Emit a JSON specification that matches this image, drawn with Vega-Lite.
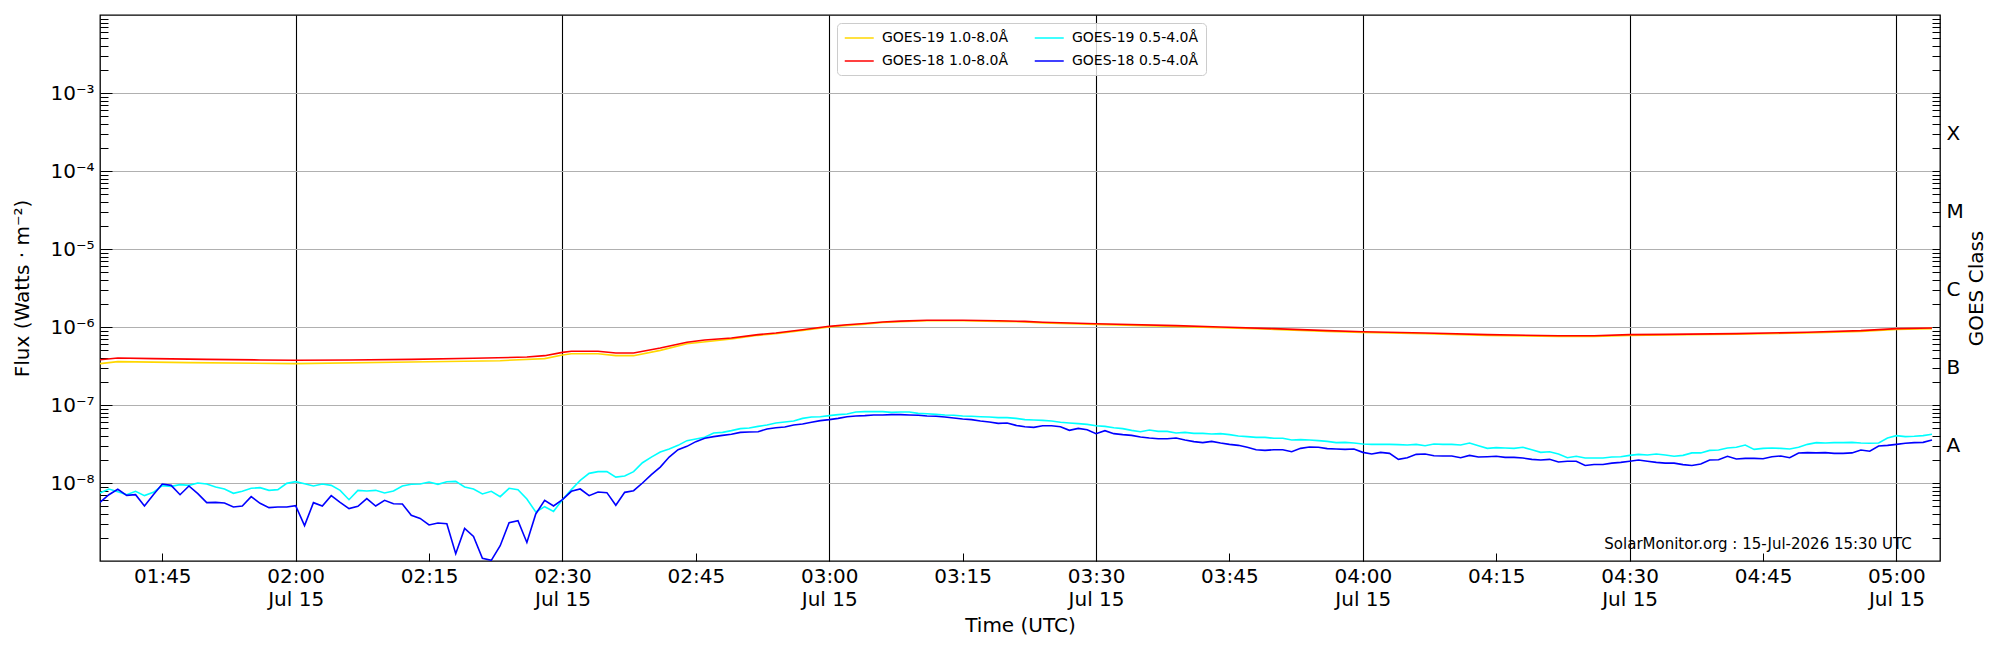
{
  "$schema": "https://vega.github.io/schema/vega-lite/v6.json",
  "width": 1840,
  "height": 546,
  "autosize": "none",
  "padding": {"left": 100, "top": 15, "right": 60, "bottom": 89},
  "config": {
    "font": "DejaVu Sans",
    "view": {"stroke": "black", "strokeWidth": 1.3},
    "axis": {"labelColor": "black", "titleColor": "black", "labelFont": "DejaVu Sans", "titleFont": "DejaVu Sans"},
    "text": {"font": "DejaVu Sans"}
  },
  "data": {"values": [
    {"t":"2026-07-15T01:38Z","a":3.39e-7,"b":3.81e-7,"c":7.45e-9,"d":5.65e-9},
    {"t":"2026-07-15T01:39Z","c":8.38e-9,"d":7.08e-9},
    {"t":"2026-07-15T01:40Z","a":3.60e-7,"b":4.01e-7,"c":7.74e-9,"d":8.30e-9},
    {"t":"2026-07-15T01:41Z","c":7.08e-9,"d":6.95e-9},
    {"t":"2026-07-15T01:42Z","c":7.82e-9,"d":7.08e-9},
    {"t":"2026-07-15T01:43Z","c":6.89e-9,"d":5.07e-9},
    {"t":"2026-07-15T01:44Z","b":3.93e-7,"c":7.59e-9,"d":7.08e-9},
    {"t":"2026-07-15T01:45Z","c":9.25e-9,"d":9.71e-9},
    {"t":"2026-07-15T01:46Z","c":9.06e-9,"d":9.33e-9},
    {"t":"2026-07-15T01:47Z","c":9.52e-9,"d":7.08e-9},
    {"t":"2026-07-15T01:48Z","a":3.49e-7,"c":9.33e-9,"d":9.16e-9},
    {"t":"2026-07-15T01:49Z","c":1.00e-8,"d":7.30e-9},
    {"t":"2026-07-15T01:50Z","b":3.85e-7,"c":9.71e-9,"d":5.60e-9},
    {"t":"2026-07-15T01:51Z","c":8.89e-9,"d":5.65e-9},
    {"t":"2026-07-15T01:52Z","c":8.38e-9,"d":5.54e-9},
    {"t":"2026-07-15T01:53Z","c":7.38e-9,"d":4.92e-9},
    {"t":"2026-07-15T01:54Z","c":7.82e-9,"d":5.07e-9},
    {"t":"2026-07-15T01:55Z","c":8.55e-9,"d":6.68e-9},
    {"t":"2026-07-15T01:56Z","b":3.78e-7,"c":8.71e-9,"d":5.49e-9},
    {"t":"2026-07-15T01:57Z","c":8.05e-9,"d":4.83e-9},
    {"t":"2026-07-15T01:58Z","c":8.22e-9,"d":4.92e-9},
    {"t":"2026-07-15T01:59Z","c":9.9e-9,"d":4.92e-9},
    {"t":"2026-07-15T02:00Z","a":3.39e-7,"b":3.74e-7,"c":1.04e-8,"d":5.12e-9},
    {"t":"2026-07-15T02:01Z","c":9.8e-9,"d":2.84e-9},
    {"t":"2026-07-15T02:02Z","c":9.16e-9,"d":5.60e-9},
    {"t":"2026-07-15T02:03Z","c":9.71e-9,"d":5.07e-9},
    {"t":"2026-07-15T02:04Z","c":9.33e-9,"d":6.89e-9},
    {"t":"2026-07-15T02:05Z","c":8.05e-9,"d":5.65e-9},
    {"t":"2026-07-15T02:06Z","b":3.78e-7,"c":6.11e-9,"d":4.69e-9},
    {"t":"2026-07-15T02:07Z","c":8.05e-9,"d":5.02e-9},
    {"t":"2026-07-15T02:08Z","c":7.89e-9,"d":6.30e-9},
    {"t":"2026-07-15T02:09Z","c":8.05e-9,"d":5.07e-9},
    {"t":"2026-07-15T02:10Z","c":7.45e-9,"d":6.0e-9},
    {"t":"2026-07-15T02:11Z","c":7.89e-9,"d":5.43e-9},
    {"t":"2026-07-15T02:12Z","c":9.16e-9,"d":5.38e-9},
    {"t":"2026-07-15T02:13Z","a":3.56e-7,"b":3.85e-7,"c":9.62e-9,"d":3.85e-9},
    {"t":"2026-07-15T02:14Z","c":9.71e-9,"d":3.52e-9},
    {"t":"2026-07-15T02:15Z","c":1.03e-8,"d":2.90e-9},
    {"t":"2026-07-15T02:16Z","c":9.62e-9,"d":3.07e-9},
    {"t":"2026-07-15T02:17Z","c":1.04e-8,"d":3.01e-9},
    {"t":"2026-07-15T02:18Z","c":1.05e-8,"d":1.24e-9},
    {"t":"2026-07-15T02:19Z","c":8.89e-9,"d":2.62e-9},
    {"t":"2026-07-15T02:20Z","b":3.97e-7,"c":8.38e-9,"d":2.07e-9},
    {"t":"2026-07-15T02:21Z","c":7.23e-9,"d":1.08e-9},
    {"t":"2026-07-15T02:22Z","c":7.82e-9,"d":1.02e-9},
    {"t":"2026-07-15T02:23Z","a":3.70e-7,"c":6.68e-9,"d":1.57e-9},
    {"t":"2026-07-15T02:24Z","c":8.55e-9,"d":3.10e-9},
    {"t":"2026-07-15T02:25Z","c":8.22e-9,"d":3.29e-9},
    {"t":"2026-07-15T02:26Z","b":4.12e-7,"c":6.24e-9,"d":1.73e-9},
    {"t":"2026-07-15T02:27Z","c":4.25e-9,"d":4.01e-9},
    {"t":"2026-07-15T02:28Z","a":3.93e-7,"b":4.29e-7,"c":4.97e-9,"d":6.0e-9},
    {"t":"2026-07-15T02:29Z","c":4.33e-9,"d":5.07e-9},
    {"t":"2026-07-15T02:30Z","a":4.38e-7,"b":4.73e-7,"c":6.11e-9,"d":6.11e-9},
    {"t":"2026-07-15T02:31Z","a":4.55e-7,"b":4.88e-7,"c":8.22e-9,"d":7.82e-9},
    {"t":"2026-07-15T02:32Z","c":1.08e-8,"d":8.38e-9},
    {"t":"2026-07-15T02:33Z","c":1.33e-8,"d":6.89e-9},
    {"t":"2026-07-15T02:34Z","a":4.55e-7,"b":4.88e-7,"c":1.40e-8,"d":7.67e-9},
    {"t":"2026-07-15T02:35Z","c":1.40e-8,"d":7.52e-9},
    {"t":"2026-07-15T02:36Z","a":4.29e-7,"b":4.65e-7,"c":1.19e-8,"d":5.18e-9},
    {"t":"2026-07-15T02:37Z","c":1.23e-8,"d":7.59e-9},
    {"t":"2026-07-15T02:38Z","a":4.29e-7,"b":4.65e-7,"c":1.40e-8,"d":7.97e-9},
    {"t":"2026-07-15T02:39Z","c":1.82e-8,"d":1.00e-8},
    {"t":"2026-07-15T02:40Z","c":2.15e-8,"d":1.28e-8},
    {"t":"2026-07-15T02:41Z","a":5.02e-7,"b":5.38e-7,"c":2.50e-8,"d":1.60e-8},
    {"t":"2026-07-15T02:42Z","c":2.73e-8,"d":2.15e-8},
    {"t":"2026-07-15T02:43Z","c":3.04e-8,"d":2.67e-8},
    {"t":"2026-07-15T02:44Z","a":6.11e-7,"b":6.36e-7,"c":3.49e-8,"d":2.95e-8},
    {"t":"2026-07-15T02:45Z","c":3.67e-8,"d":3.39e-8},
    {"t":"2026-07-15T02:46Z","b":6.81e-7,"c":3.85e-8,"d":3.74e-8},
    {"t":"2026-07-15T02:47Z","c":4.38e-8,"d":3.93e-8},
    {"t":"2026-07-15T02:48Z","c":4.46e-8,"d":4.08e-8},
    {"t":"2026-07-15T02:49Z","a":7.02e-7,"b":7.23e-7,"c":4.69e-8,"d":4.21e-8},
    {"t":"2026-07-15T02:50Z","c":4.98e-8,"d":4.46e-8},
    {"t":"2026-07-15T02:51Z","c":5.07e-8,"d":4.51e-8},
    {"t":"2026-07-15T02:52Z","a":7.82e-7,"b":7.98e-7,"c":5.32e-8,"d":4.55e-8},
    {"t":"2026-07-15T02:53Z","c":5.54e-8,"d":4.92e-8},
    {"t":"2026-07-15T02:54Z","a":8.21e-7,"b":8.38e-7,"c":5.88e-8,"d":5.12e-8},
    {"t":"2026-07-15T02:55Z","c":6.05e-8,"d":5.22e-8},
    {"t":"2026-07-15T02:56Z","c":6.23e-8,"d":5.54e-8},
    {"t":"2026-07-15T02:57Z","a":9.06e-7,"b":9.24e-7,"c":6.74e-8,"d":5.71e-8},
    {"t":"2026-07-15T02:58Z","c":7.02e-8,"d":6.0e-8},
    {"t":"2026-07-15T02:59Z","c":7.08e-8,"d":6.30e-8},
    {"t":"2026-07-15T03:00Z","a":1.00e-6,"b":1.02e-6,"c":7.30e-8,"d":6.49e-8},
    {"t":"2026-07-15T03:01Z","c":7.52e-8,"d":6.74e-8},
    {"t":"2026-07-15T03:02Z","a":1.05e-6,"b":1.07e-6,"c":7.67e-8,"d":7.08e-8},
    {"t":"2026-07-15T03:03Z","c":8.13e-8,"d":7.23e-8},
    {"t":"2026-07-15T03:04Z","a":1.09e-6,"b":1.11e-6,"c":8.22e-8,"d":7.30e-8},
    {"t":"2026-07-15T03:05Z","c":8.22e-8,"d":7.45e-8},
    {"t":"2026-07-15T03:06Z","a":1.14e-6,"b":1.16e-6,"c":8.22e-8,"d":7.45e-8},
    {"t":"2026-07-15T03:07Z","c":8.05e-8,"d":7.52e-8},
    {"t":"2026-07-15T03:08Z","a":1.17e-6,"b":1.19e-6,"c":8.13e-8,"d":7.52e-8},
    {"t":"2026-07-15T03:09Z","c":8.13e-8,"d":7.45e-8},
    {"t":"2026-07-15T03:10Z","c":7.82e-8,"d":7.38e-8},
    {"t":"2026-07-15T03:11Z","a":1.20e-6,"b":1.22e-6,"c":7.74e-8,"d":7.23e-8},
    {"t":"2026-07-15T03:12Z","c":7.59e-8,"d":7.16e-8},
    {"t":"2026-07-15T03:13Z","c":7.45e-8,"d":7.02e-8},
    {"t":"2026-07-15T03:14Z","c":7.38e-8,"d":6.81e-8},
    {"t":"2026-07-15T03:15Z","a":1.20e-6,"b":1.22e-6,"c":7.23e-8,"d":6.62e-8},
    {"t":"2026-07-15T03:16Z","c":7.16e-8,"d":6.49e-8},
    {"t":"2026-07-15T03:17Z","c":7.08e-8,"d":6.23e-8},
    {"t":"2026-07-15T03:18Z","c":7.02e-8,"d":6.05e-8},
    {"t":"2026-07-15T03:19Z","a":1.18e-6,"b":1.20e-6,"c":6.89e-8,"d":5.82e-8},
    {"t":"2026-07-15T03:20Z","c":6.89e-8,"d":5.88e-8},
    {"t":"2026-07-15T03:21Z","c":6.74e-8,"d":5.48e-8},
    {"t":"2026-07-15T03:22Z","a":1.16e-6,"b":1.18e-6,"c":6.49e-8,"d":5.27e-8},
    {"t":"2026-07-15T03:23Z","c":6.43e-8,"d":5.17e-8},
    {"t":"2026-07-15T03:24Z","a":1.13e-6,"b":1.15e-6,"c":6.36e-8,"d":5.43e-8},
    {"t":"2026-07-15T03:25Z","c":6.23e-8,"d":5.43e-8},
    {"t":"2026-07-15T03:26Z","c":6.0e-8,"d":5.27e-8},
    {"t":"2026-07-15T03:27Z","c":5.88e-8,"d":4.73e-8},
    {"t":"2026-07-15T03:28Z","c":5.77e-8,"d":5.02e-8},
    {"t":"2026-07-15T03:29Z","c":5.65e-8,"d":4.83e-8},
    {"t":"2026-07-15T03:30Z","a":1.08e-6,"b":1.10e-6,"c":5.43e-8,"d":4.29e-8},
    {"t":"2026-07-15T03:31Z","c":5.32e-8,"d":4.69e-8},
    {"t":"2026-07-15T03:32Z","c":5.12e-8,"d":4.29e-8},
    {"t":"2026-07-15T03:33Z","c":4.98e-8,"d":4.17e-8},
    {"t":"2026-07-15T03:34Z","c":4.73e-8,"d":4.08e-8},
    {"t":"2026-07-15T03:35Z","c":4.55e-8,"d":3.89e-8},
    {"t":"2026-07-15T03:36Z","c":4.78e-8,"d":3.78e-8},
    {"t":"2026-07-15T03:37Z","c":4.59e-8,"d":3.70e-8},
    {"t":"2026-07-15T03:38Z","c":4.59e-8,"d":3.70e-8},
    {"t":"2026-07-15T03:39Z","a":1.02e-6,"b":1.04e-6,"c":4.38e-8,"d":3.78e-8},
    {"t":"2026-07-15T03:40Z","c":4.46e-8,"d":3.56e-8},
    {"t":"2026-07-15T03:41Z","c":4.33e-8,"d":3.39e-8},
    {"t":"2026-07-15T03:42Z","c":4.33e-8,"d":3.29e-8},
    {"t":"2026-07-15T03:43Z","c":4.25e-8,"d":3.42e-8},
    {"t":"2026-07-15T03:44Z","a":9.8e-7,"b":1.00e-6,"c":4.29e-8,"d":3.26e-8},
    {"t":"2026-07-15T03:45Z","c":4.17e-8,"d":3.13e-8},
    {"t":"2026-07-15T03:46Z","c":4.01e-8,"d":3.04e-8},
    {"t":"2026-07-15T03:47Z","c":3.93e-8,"d":2.87e-8},
    {"t":"2026-07-15T03:48Z","c":3.85e-8,"d":2.67e-8},
    {"t":"2026-07-15T03:49Z","c":3.85e-8,"d":2.62e-8},
    {"t":"2026-07-15T03:50Z","a":9.33e-7,"b":9.52e-7,"c":3.74e-8,"d":2.67e-8},
    {"t":"2026-07-15T03:51Z","c":3.74e-8,"d":2.67e-8},
    {"t":"2026-07-15T03:52Z","c":3.56e-8,"d":2.52e-8},
    {"t":"2026-07-15T03:53Z","c":3.60e-8,"d":2.78e-8},
    {"t":"2026-07-15T03:54Z","c":3.56e-8,"d":2.90e-8},
    {"t":"2026-07-15T03:55Z","c":3.49e-8,"d":2.87e-8},
    {"t":"2026-07-15T03:56Z","a":8.80e-7,"b":8.98e-7,"c":3.42e-8,"d":2.76e-8},
    {"t":"2026-07-15T03:57Z","c":3.29e-8,"d":2.73e-8},
    {"t":"2026-07-15T03:58Z","c":3.32e-8,"d":2.70e-8},
    {"t":"2026-07-15T03:59Z","c":3.26e-8,"d":2.73e-8},
    {"t":"2026-07-15T04:00Z","a":8.54e-7,"b":8.71e-7,"c":3.16e-8,"d":2.47e-8},
    {"t":"2026-07-15T04:01Z","c":3.13e-8,"d":2.35e-8},
    {"t":"2026-07-15T04:02Z","c":3.13e-8,"d":2.47e-8},
    {"t":"2026-07-15T04:03Z","c":3.13e-8,"d":2.40e-8},
    {"t":"2026-07-15T04:04Z","c":3.10e-8,"d":2.01e-8},
    {"t":"2026-07-15T04:05Z","c":3.07e-8,"d":2.11e-8},
    {"t":"2026-07-15T04:06Z","c":3.13e-8,"d":2.33e-8},
    {"t":"2026-07-15T04:07Z","a":8.21e-7,"b":8.38e-7,"c":3.01e-8,"d":2.35e-8},
    {"t":"2026-07-15T04:08Z","c":3.16e-8,"d":2.24e-8},
    {"t":"2026-07-15T04:09Z","c":3.13e-8,"d":2.22e-8},
    {"t":"2026-07-15T04:10Z","c":3.13e-8,"d":2.22e-8},
    {"t":"2026-07-15T04:11Z","c":3.07e-8,"d":2.11e-8},
    {"t":"2026-07-15T04:12Z","c":3.26e-8,"d":2.26e-8},
    {"t":"2026-07-15T04:13Z","c":3.01e-8,"d":2.15e-8},
    {"t":"2026-07-15T04:14Z","a":7.82e-7,"b":7.98e-7,"c":2.78e-8,"d":2.17e-8},
    {"t":"2026-07-15T04:15Z","c":2.84e-8,"d":2.20e-8},
    {"t":"2026-07-15T04:16Z","c":2.81e-8,"d":2.13e-8},
    {"t":"2026-07-15T04:17Z","c":2.78e-8,"d":2.13e-8},
    {"t":"2026-07-15T04:18Z","c":2.87e-8,"d":2.09e-8},
    {"t":"2026-07-15T04:19Z","c":2.67e-8,"d":2.01e-8},
    {"t":"2026-07-15T04:20Z","c":2.47e-8,"d":1.97e-8},
    {"t":"2026-07-15T04:21Z","c":2.52e-8,"d":2.01e-8},
    {"t":"2026-07-15T04:22Z","a":7.59e-7,"b":7.74e-7,"c":2.35e-8,"d":1.86e-8},
    {"t":"2026-07-15T04:23Z","c":2.11e-8,"d":1.90e-8},
    {"t":"2026-07-15T04:24Z","c":2.20e-8,"d":1.90e-8},
    {"t":"2026-07-15T04:25Z","c":2.09e-8,"d":1.68e-8},
    {"t":"2026-07-15T04:26Z","a":7.59e-7,"b":7.74e-7,"c":2.09e-8,"d":1.73e-8},
    {"t":"2026-07-15T04:27Z","c":2.09e-8,"d":1.73e-8},
    {"t":"2026-07-15T04:28Z","c":2.15e-8,"d":1.80e-8},
    {"t":"2026-07-15T04:29Z","c":2.17e-8,"d":1.84e-8},
    {"t":"2026-07-15T04:30Z","a":7.82e-7,"b":7.98e-7,"c":2.26e-8,"d":1.90e-8},
    {"t":"2026-07-15T04:31Z","c":2.33e-8,"d":1.97e-8},
    {"t":"2026-07-15T04:32Z","c":2.29e-8,"d":1.90e-8},
    {"t":"2026-07-15T04:33Z","c":2.35e-8,"d":1.84e-8},
    {"t":"2026-07-15T04:34Z","a":7.89e-7,"b":8.05e-7,"c":2.29e-8,"d":1.80e-8},
    {"t":"2026-07-15T04:35Z","c":2.20e-8,"d":1.80e-8},
    {"t":"2026-07-15T04:36Z","c":2.26e-8,"d":1.72e-8},
    {"t":"2026-07-15T04:37Z","c":2.43e-8,"d":1.68e-8},
    {"t":"2026-07-15T04:38Z","c":2.43e-8,"d":1.75e-8},
    {"t":"2026-07-15T04:39Z","c":2.62e-8,"d":1.97e-8},
    {"t":"2026-07-15T04:40Z","c":2.65e-8,"d":1.99e-8},
    {"t":"2026-07-15T04:41Z","c":2.81e-8,"d":2.20e-8},
    {"t":"2026-07-15T04:42Z","a":8.06e-7,"b":8.22e-7,"c":2.87e-8,"d":2.03e-8},
    {"t":"2026-07-15T04:43Z","c":3.07e-8,"d":2.07e-8},
    {"t":"2026-07-15T04:44Z","c":2.70e-8,"d":2.07e-8},
    {"t":"2026-07-15T04:45Z","c":2.78e-8,"d":2.05e-8},
    {"t":"2026-07-15T04:46Z","c":2.81e-8,"d":2.17e-8},
    {"t":"2026-07-15T04:47Z","c":2.78e-8,"d":2.22e-8},
    {"t":"2026-07-15T04:48Z","c":2.73e-8,"d":2.11e-8},
    {"t":"2026-07-15T04:49Z","c":2.87e-8,"d":2.43e-8},
    {"t":"2026-07-15T04:50Z","a":8.38e-7,"b":8.55e-7,"c":3.13e-8,"d":2.45e-8},
    {"t":"2026-07-15T04:51Z","c":3.29e-8,"d":2.43e-8},
    {"t":"2026-07-15T04:52Z","c":3.26e-8,"d":2.45e-8},
    {"t":"2026-07-15T04:53Z","c":3.29e-8,"d":2.40e-8},
    {"t":"2026-07-15T04:54Z","c":3.29e-8,"d":2.40e-8},
    {"t":"2026-07-15T04:55Z","c":3.32e-8,"d":2.43e-8},
    {"t":"2026-07-15T04:56Z","a":8.80e-7,"b":8.98e-7,"c":3.26e-8,"d":2.65e-8},
    {"t":"2026-07-15T04:57Z","c":3.23e-8,"d":2.55e-8},
    {"t":"2026-07-15T04:58Z","c":3.26e-8,"d":2.98e-8},
    {"t":"2026-07-15T04:59Z","c":3.78e-8,"d":3.04e-8},
    {"t":"2026-07-15T05:00Z","a":9.33e-7,"b":9.52e-7,"c":4.05e-8,"d":3.13e-8},
    {"t":"2026-07-15T05:01Z","c":3.93e-8,"d":3.23e-8},
    {"t":"2026-07-15T05:02Z","c":3.97e-8,"d":3.29e-8},
    {"t":"2026-07-15T05:03Z","c":4.05e-8,"d":3.32e-8},
    {"t":"2026-07-15T05:04Z","a":9.52e-7,"b":9.71e-7,"c":4.21e-8,"d":3.56e-8}
  ]},
  "transform": [
    {"fold": ["a", "b", "c", "d"], "as": ["key", "f"]},
    {"filter": "isValid(datum.f)"}
  ],
  "layer": [
    {
      "transform": [{"filter": "datum.key == 'a' || datum.key == 'b'"}],
      "mark": {"type": "line", "strokeWidth": 1.6, "clip": true},
      "encoding": {
        "x": {
          "field": "t", "type": "temporal",
          "scale": {"type": "utc", "domain": [
            {"year": 2026, "month": 7, "date": 15, "hours": 1, "minutes": 38, "utc": true},
            {"year": 2026, "month": 7, "date": 15, "hours": 5, "minutes": 4, "seconds": 54, "utc": true}
          ]},
          "axis": {
            "orient": "bottom",
            "values": [
              {"year": 2026, "month": 7, "date": 15, "hours": 1, "minutes": 45, "utc": true},
              {"year": 2026, "month": 7, "date": 15, "hours": 2, "minutes": 0, "utc": true},
              {"year": 2026, "month": 7, "date": 15, "hours": 2, "minutes": 15, "utc": true},
              {"year": 2026, "month": 7, "date": 15, "hours": 2, "minutes": 30, "utc": true},
              {"year": 2026, "month": 7, "date": 15, "hours": 2, "minutes": 45, "utc": true},
              {"year": 2026, "month": 7, "date": 15, "hours": 3, "minutes": 0, "utc": true},
              {"year": 2026, "month": 7, "date": 15, "hours": 3, "minutes": 15, "utc": true},
              {"year": 2026, "month": 7, "date": 15, "hours": 3, "minutes": 30, "utc": true},
              {"year": 2026, "month": 7, "date": 15, "hours": 3, "minutes": 45, "utc": true},
              {"year": 2026, "month": 7, "date": 15, "hours": 4, "minutes": 0, "utc": true},
              {"year": 2026, "month": 7, "date": 15, "hours": 4, "minutes": 15, "utc": true},
              {"year": 2026, "month": 7, "date": 15, "hours": 4, "minutes": 30, "utc": true},
              {"year": 2026, "month": 7, "date": 15, "hours": 4, "minutes": 45, "utc": true},
              {"year": 2026, "month": 7, "date": 15, "hours": 5, "minutes": 0, "utc": true}
            ],
            "labelExpr": "utcminutes(datum.value) % 30 == 0 ? [utcFormat(datum.value, '%H:%M'), utcFormat(datum.value, '%b %d')] : utcFormat(datum.value, '%H:%M')",
            "labelFontSize": 20,
            "labelLineHeight": 23,
            "labelPadding": 13,
            "labelOverlap": false,
            "labelFlush": false,
            "tickSize": -8,
            "tickWidth": 1,
            "tickColor": "black",
            "domain": false,
            "grid": true,
            "gridColor": "black",
            "gridWidth": 1.1,
            "gridOpacity": {"condition": {"test": "utcminutes(datum.value) % 30 == 0", "value": 1}, "value": 0},
            "title": "Time (UTC)",
            "titleFontSize": 20,
            "titleFontWeight": "normal",
            "titlePadding": 6
          }
        },
        "y": {
          "field": "f", "type": "quantitative",
          "scale": {"type": "log", "domain": [1e-9, 1e-2], "nice": false},
          "axis": {
            "orient": "left",
            "values": [2e-9,3e-9,4e-9,5e-9,6e-9,7e-9,8e-9,9e-9,1e-8,2e-8,3e-8,4e-8,5e-8,6e-8,7e-8,8e-8,9e-8,1e-7,2e-7,3e-7,4e-7,5e-7,6e-7,7e-7,8e-7,9e-7,1e-6,2e-6,3e-6,4e-6,5e-6,6e-6,7e-6,8e-6,9e-6,1e-5,2e-5,3e-5,4e-5,5e-5,6e-5,7e-5,8e-5,9e-5,1e-4,2e-4,3e-4,4e-4,5e-4,6e-4,7e-4,8e-4,9e-4,1e-3,2e-3,3e-3,4e-3,5e-3,6e-3,7e-3,8e-3,9e-3],
            "labelExpr": "abs(log(datum.value)/LN10 - round(log(datum.value)/LN10)) < 0.01 ? '10⁻' + ['⁰','¹','²','³','⁴','⁵','⁶','⁷','⁸','⁹'][-round(log(datum.value)/LN10)] : ''",
            "labelFontSize": 20,
            "labelPadding": 14,
            "labelOverlap": false,
            "labelFlush": false,
            "labelBound": false,
            "tickSize": -8,
            "tickWidth": 1,
            "tickColor": "black",
            "domain": false,
            "grid": false,
            "title": "Flux (Watts · m⁻²)",
            "titleFontSize": 20,
            "titleFontWeight": "normal",
            "titlePadding": 17
          }
        },
        "color": {
          "field": "key", "type": "nominal",
          "scale": {"domain": ["a", "b", "c", "d"], "range": ["#ffd700", "#ff0000", "#00ffff", "#0000ff"]},
          "legend": {
            "title": null,
            "orient": "none",
            "legendX": 737,
            "legendY": 8,
            "columns": 2,
            "symbolType": "M-1,0H3",
            "symbolSize": 210,
            "symbolStrokeWidth": 1.5,
            "labelFontSize": 14,
            "labelOffset": 22,
            "rowPadding": 8,
            "columnPadding": 22,
            "padding": 7,
            "strokeColor": "#cccccc",
            "fillColor": "rgba(255,255,255,0.8)",
            "cornerRadius": 4,
            "labelExpr": "datum.value == 'a' ? 'GOES-19 1.0-8.0Å' : datum.value == 'b' ? 'GOES-18 1.0-8.0Å' : datum.value == 'c' ? 'GOES-19 0.5-4.0Å' : 'GOES-18 0.5-4.0Å'"
          }
        }
      }
    },
    {
      "transform": [{"filter": "datum.key == 'c' || datum.key == 'd'"}],
      "mark": {"type": "line", "strokeWidth": 1.6, "clip": true},
      "encoding": {
        "x": {"field": "t", "type": "temporal"},
        "y": {
          "field": "f", "type": "quantitative",
          "scale": {"type": "log", "domain": [1e-9, 1e-2], "nice": false},
          "axis": {
            "orient": "left",
            "values": [1e-8, 1e-7, 1e-6, 1e-5, 1e-4, 1e-3],
            "labels": false,
            "tickSize": -12,
            "tickWidth": 1,
            "tickColor": "black",
            "domain": false,
            "grid": true,
            "gridColor": "#b0b0b0",
            "gridWidth": 1,
            "title": null
          }
        },
        "color": {"field": "key", "type": "nominal"}
      }
    },
    {
      "data": {"values": [{"note": "SolarMonitor.org : 15-Jul-2026 15:30 UTC"}]},
      "mark": {"type": "text", "align": "right", "baseline": "alphabetic", "fontSize": 15, "color": "black"},
      "encoding": {
        "x": {"datum": {"year": 2026, "month": 7, "date": 15, "hours": 5, "minutes": 1, "seconds": 43, "utc": true}, "type": "temporal"},
        "y": {
          "datum": 1.44e-9, "type": "quantitative",
          "scale": {"type": "log", "domain": [1e-9, 1e-2], "nice": false},
          "axis": {
            "orient": "right",
            "values": [2e-9,3e-9,4e-9,5e-9,6e-9,7e-9,8e-9,9e-9,1e-8,2e-8,3e-8,4e-8,5e-8,6e-8,7e-8,8e-8,9e-8,1e-7,2e-7,3e-7,4e-7,5e-7,6e-7,7e-7,8e-7,9e-7,1e-6,2e-6,3e-6,4e-6,5e-6,6e-6,7e-6,8e-6,9e-6,1e-5,2e-5,3e-5,4e-5,5e-5,6e-5,7e-5,8e-5,9e-5,1e-4,2e-4,3e-4,4e-4,5e-4,6e-4,7e-4,8e-4,9e-4,1e-3,2e-3,3e-3,4e-3,5e-3,6e-3,7e-3,8e-3,9e-3],
            "labelExpr": "(datum.value > 1e-8 && datum.value < 1e-3 && abs(log(datum.value/3)/LN10 - round(log(datum.value/3)/LN10)) < 0.01) ? ['A','B','C','M','X'][round(log(datum.value/3)/LN10) + 8] : ''",
            "labelFontSize": 20,
            "labelPadding": 14,
            "labelOverlap": false,
            "labelFlush": false,
            "labelBound": false,
            "tickSize": -8,
            "tickWidth": 1,
            "tickColor": "black",
            "domain": false,
            "grid": false,
            "title": "GOES Class",
            "titleFontSize": 20,
            "titleFontWeight": "normal",
            "titleAngle": 270,
            "titleBaseline": "top",
            "titlePadding": 3
          }
        },
        "text": {"field": "note"}
      }
    }
  ],
  "resolve": {"scale": {"y": "independent"}, "axis": {"y": "independent"}}
}
